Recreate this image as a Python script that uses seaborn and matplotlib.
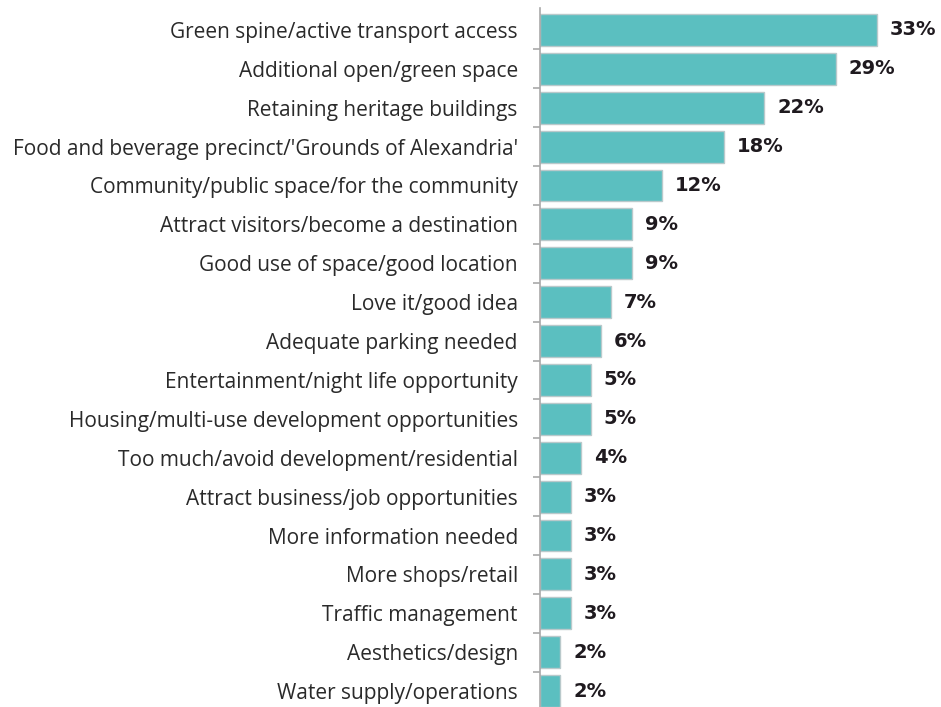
import matplotlib
matplotlib.use("Agg")
import matplotlib.pyplot as plt
import seaborn as sns
import pandas as pd
import numpy as np

categories = [
    "Green spine/active transport access",
    "Additional open/green space",
    "Retaining heritage buildings",
    "Food and beverage precinct/'Grounds of Alexandria'",
    "Community/public space/for the community",
    "Attract visitors/become a destination",
    "Good use of space/good location",
    "Love it/good idea",
    "Adequate parking needed",
    "Entertainment/night life opportunity",
    "Housing/multi-use development opportunities",
    "Too much/avoid development/residential",
    "Attract business/job opportunities",
    "More information needed",
    "More shops/retail",
    "Traffic management",
    "Aesthetics/design",
    "Water supply/operations",
]
percent = [33, 29, 22, 18, 12, 9, 9, 7, 6, 5, 5, 4, 3, 3, 3, 3, 2, 2]

df = pd.DataFrame({"category": categories, "percent": percent})

sns.set_style("white")
plt.rcParams["font.family"] = ["Open Sans", "DejaVu Sans"]

fig = plt.figure(figsize=(9.41, 7.07), dpi=100)
ax = fig.add_axes([540 / 941, 0, 1 - 540 / 941, 1])

sns.barplot(data=df, y="category", x="percent", orient="h", ax=ax,
            color="#5bbfc0", edgecolor="#b9c9cb", linewidth=1.0,
            saturation=1, width=0.82)

n = len(categories)
ax.set_xlim(0, 39.3)
ax.set_ylim(n - 1 + 0.41, -0.77)

# value labels at the end of each bar
for i, v in enumerate(percent):
    ax.text(v + 1.25, i, f"{v}%", va="center", ha="left",
            fontsize=14, fontweight="bold", color="#1f1a1f",
            family=["DejaVu Sans"])

ax.set_xlabel("")
ax.set_ylabel("")
ax.set_xticks([])
for s in ["top", "right", "bottom"]:
    ax.spines[s].set_visible(False)
ax.spines["left"].set_color("#a9a9a9")
ax.spines["left"].set_linewidth(1.2)
ax.spines["left"].set_bounds(-0.56, n - 1 + 0.41)

ax.set_yticks(range(n))
ax.set_yticklabels(categories, fontsize=15, color="#2a2a2a")
ax.tick_params(axis="y", which="major", left=True, length=0, pad=16)
ax.set_yticks(np.arange(n - 1) + 0.5, minor=True)
ax.tick_params(axis="y", which="minor", left=True, length=5, width=1.2,
               color="#a9a9a9", direction="out")

fig.savefig("out.png", dpi=100)
